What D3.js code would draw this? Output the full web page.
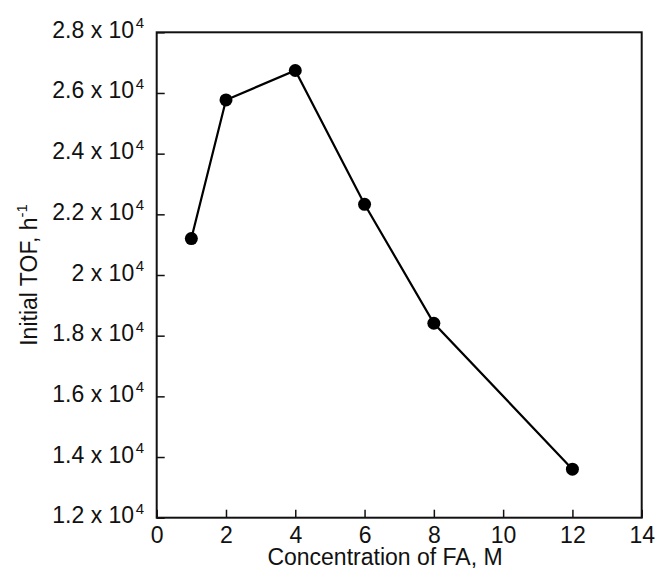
<!DOCTYPE html>
<html>
<head>
<meta charset="utf-8">
<script src="https://cdn.jsdelivr.net/npm/d3@7"></script>
<style>
  html, body { margin: 0; padding: 0; background: #fff; }
  svg { display: block; }
  text { font-family: "Liberation Sans", Arial, sans-serif; fill: #111; }
</style>
</head>
<body>
<svg id="chart" width="658" height="577"></svg>
<script>
// Initial TOF versus formic acid concentration
const concentration = [1, 2, 4, 6, 8, 12];
const initialTOF = [21200, 25770, 26740, 22330, 18410, 13600];

const xTicks = [0, 2, 4, 6, 8, 10, 12, 14];
const yTicks = [12000, 14000, 16000, 18000, 20000, 22000, 24000, 26000, 28000];

const width = 658, height = 577;
const margin = { left: 156.7, right: 658 - 641.7, top: 32.3, bottom: 577 - 517.7 };

const svg = d3.select("#chart");

const x = d3.scaleLinear().domain([0, 14]).range([margin.left, width - margin.right]);
const y = d3.scaleLinear().domain([12000, 28000]).range([height - margin.bottom, margin.top]);

const tickLen = 8;
const fontSize = 23;
const supSize = 15;

// bottom axis: inward ticks, labels drawn separately
const xAxis = svg.append("g")
  .attr("transform", `translate(0,${y(12000)})`)
  .call(d3.axisBottom(x).tickValues(xTicks).tickSize(-tickLen).tickFormat(""));
xAxis.select(".domain").remove();
xAxis.selectAll("line").attr("stroke", "#111").attr("stroke-width", 1.5);

xAxis.selectAll(".tick").append("text")
  .attr("y", 25.5)
  .attr("text-anchor", "middle")
  .style("font-size", fontSize + "px")
  .text(d => d);

// left axis: inward ticks, labels in "a x 10^4" form
const yAxis = svg.append("g")
  .attr("transform", `translate(${x(0)},0)`)
  .call(d3.axisLeft(y).tickValues(yTicks).tickSize(-tickLen).tickFormat(""));
yAxis.select(".domain").remove();
yAxis.selectAll("line").attr("stroke", "#111").attr("stroke-width", 1.5);

const yLab = yAxis.selectAll(".tick").append("text")
  .attr("x", -12.7)
  .attr("y", 5)
  .attr("text-anchor", "end")
  .style("font-size", fontSize + "px");
yLab.append("tspan").text(d => `${d3.format("~g")(d / 1e4)} x 10`);
yLab.append("tspan")
  .attr("dx", 1.5)
  .attr("dy", -9.5)
  .style("font-size", supSize + "px")
  .text("4");

// plot frame
svg.append("rect")
  .attr("x", x(0)).attr("y", y(28000))
  .attr("width", x(14) - x(0)).attr("height", y(12000) - y(28000))
  .attr("fill", "none").attr("stroke", "#111").attr("stroke-width", 2);

// data line and markers
const line = d3.line().x((d, i) => x(concentration[i])).y(d => y(d));
svg.append("path")
  .datum(initialTOF)
  .attr("d", line)
  .attr("fill", "none")
  .attr("stroke", "#000")
  .attr("stroke-width", 2.2);

svg.selectAll("circle.pt")
  .data(initialTOF)
  .join("circle")
  .attr("class", "pt")
  .attr("cx", (d, i) => x(concentration[i]))
  .attr("cy", d => y(d))
  .attr("r", 6.5)
  .attr("fill", "#000");

// axis titles
svg.append("text")
  .attr("x", 385)
  .attr("y", 565)
  .attr("text-anchor", "middle")
  .style("font-size", fontSize + "px")
  .text("Concentration of FA, M");

const yTitle = svg.append("text")
  .attr("transform", `translate(36.5,${(y(12000) + y(28000)) / 2}) rotate(-90)`)
  .attr("text-anchor", "middle")
  .style("font-size", fontSize + "px");
yTitle.append("tspan").text("Initial TOF, h");
yTitle.append("tspan").attr("dy", -9.5).style("font-size", supSize + "px").text("-1");
</script>
</body>
</html>
